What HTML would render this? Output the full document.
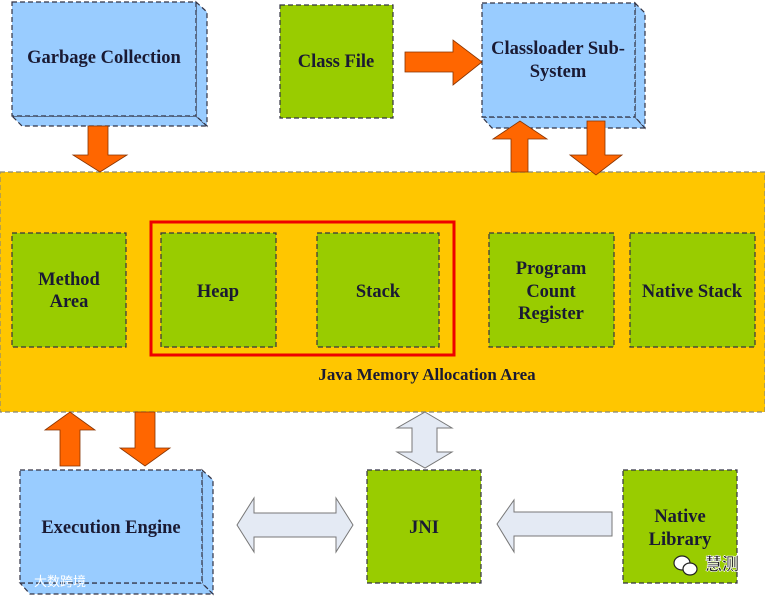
<!DOCTYPE html>
<html><head><meta charset="utf-8"><style>
html,body{margin:0;padding:0;background:#fff;width:765px;height:597px;overflow:hidden}
svg text{font-family:"Liberation Serif",serif;font-weight:bold;fill:#1a1a33;font-size:18.5px;text-anchor:middle}
</style></head><body>
<svg width="765" height="597" viewBox="0 0 765 597" xmlns="http://www.w3.org/2000/svg">
<g stroke="#334" stroke-width="1.2" stroke-dasharray="5,3">
<polygon points="12,116 196,116 207,126 22,126" fill="#99CCFF"/>
<polygon points="196,2 207,12 207,126 196,116" fill="#99CCFF"/>
<rect x="12" y="2" width="184" height="114" fill="#99CCFF"/>
<polygon points="482,117 635,117 645,128 492,128" fill="#99CCFF"/>
<polygon points="635,3 645,13 645,128 635,117" fill="#99CCFF"/>
<rect x="482" y="3" width="153" height="114" fill="#99CCFF"/>
<rect x="280" y="5" width="113" height="113" fill="#99CC00"/>
<rect x="0" y="172" width="765" height="240" fill="#FFC600" stroke="#887"/>
<rect x="12" y="233" width="114" height="114" fill="#99CC00"/>
<rect x="161" y="233" width="115" height="114" fill="#99CC00"/>
<rect x="317" y="233" width="122" height="114" fill="#99CC00"/>
<rect x="489" y="233" width="125" height="114" fill="#99CC00"/>
<rect x="630" y="233" width="125" height="114" fill="#99CC00"/>
<polygon points="20,583 202,583 213,594 30,594" fill="#99CCFF"/>
<polygon points="202,470 213,480 213,594 202,583" fill="#99CCFF"/>
<rect x="20" y="470" width="182" height="113" fill="#99CCFF"/>
<rect x="367" y="470" width="114" height="113" fill="#99CC00"/>
<rect x="623" y="470" width="114" height="113" fill="#99CC00"/>
</g>
<rect x="151" y="222" width="303" height="133" fill="none" stroke="#E00" stroke-width="3"/>
<g fill="#FF6600" stroke="#883300" stroke-width="0.8">
<polygon points="405,52 453,52 453,40 482,62 453,85 453,72 405,72"/>
<polygon points="88,126 108,126 108,155 127,155 100,172 73,155 88,155"/>
<polygon points="511,172 528,172 528,139 547,139 520,121 493,139 511,139"/>
<polygon points="587,121 605,121 605,155 622,155 596,175 570,155 587,155"/>
<polygon points="60,466 80,466 80,430 95,430 70,412 45,430 60,430"/>
<polygon points="135,412 155,412 155,448 170,448 145,466 120,448 135,448"/>
</g>
<g fill="#E4EAF4" stroke="#777" stroke-width="1">
<polygon points="237,525 254,498 254,513 336,513 336,498 353,525 336,552 336,537 254,537 254,552"/>
<polygon points="425,412 452,428 437,428 437,452 452,452 425,468 397,452 412,452 412,428 397,428"/>
<polygon points="497,524 514,500 514,512 612,512 612,536 514,536 514,552"/>
</g>
<text x="104" y="63">Garbage Collection</text>
<text x="336" y="67">Class File</text>
<text x="558" y="54">Classloader Sub-</text>
<text x="558" y="77">System</text>
<text x="69" y="285">Method</text>
<text x="69" y="307">Area</text>
<text x="218" y="297">Heap</text>
<text x="378" y="297">Stack</text>
<text x="551" y="274">Program</text>
<text x="551" y="297">Count</text>
<text x="551" y="319">Register</text>
<text x="692" y="297">Native Stack</text>
<text x="427" y="380" style="font-size:17px">Java Memory Allocation Area</text>
<text x="111" y="533">Execution Engine</text>
<text x="424" y="533">JNI</text>
<text x="680" y="522">Native</text>
<text x="680" y="545">Library</text>
<g fill="#fff" stroke="#222" stroke-width="1.2"><ellipse cx="682" cy="563" rx="8" ry="7"/><ellipse cx="690" cy="569" rx="7" ry="6"/></g>
<text x="722" y="570" style="fill:#222;stroke:#fff;stroke-width:0.6;font-family:'Noto Sans CJK SC',sans-serif;font-size:17px">慧测</text>
<text x="60" y="586" style="fill:#fff;font-family:'Noto Sans CJK SC',sans-serif;font-size:13px;font-weight:normal">大数跨境</text>
</svg>
</body></html>
